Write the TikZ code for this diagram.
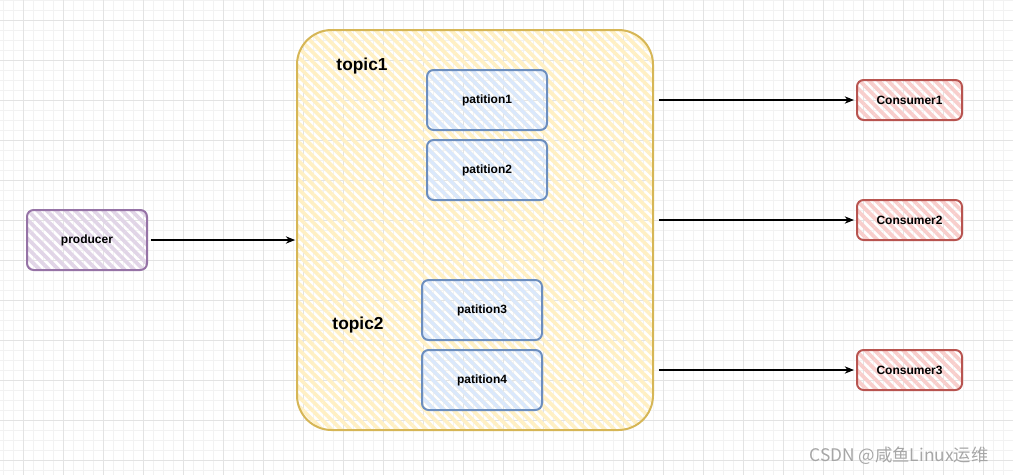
\documentclass[tikz,border=0pt]{standalone}
\usepackage{fontspec}
\setmainfont{Liberation Sans}
\newfontfamily\cjkfont{Noto Sans CJK SC}
\usetikzlibrary{arrows.meta}
\usetikzlibrary{patterns.meta}

\definecolor{prodline}{HTML}{9673A6}
\definecolor{prodfill}{HTML}{E1D5E7}
\definecolor{topicline}{HTML}{D6B656}
\definecolor{topicfill}{HTML}{FFF0C4}
\definecolor{partline}{HTML}{6C8EBF}
\definecolor{partfill}{HTML}{DAE8FC}
\definecolor{consline}{HTML}{B85450}
\definecolor{consfill}{HTML}{F8CECC}

\tikzset{
  hatch/.style={pattern={Lines[angle=-45,distance=5pt,line width=2.8pt]}, pattern color=#1},
  box/.style={draw, line width=1.5pt, rounded corners=5pt, inner sep=0pt, font=\bfseries\fontsize{9}{11}\selectfont},
  prodbox/.style={box, draw=prodline, hatch=prodfill, minimum width=90pt, minimum height=45pt},
  partbox/.style={box, draw=partline, hatch=partfill, minimum width=90pt, minimum height=45pt},
  consbox/.style={box, draw=consline, hatch=consfill, minimum width=78.75pt, minimum height=30pt},
  topicbox/.style={draw=topicline, line width=1.5pt, rounded corners=26pt, hatch=topicfill, minimum width=267pt, minimum height=300pt, inner sep=0pt},
  topiclabel/.style={font=\bfseries\fontsize{13}{15}\selectfont},
  link/.style={-{Stealth[length=7pt,width=5.5pt]}, line width=0.8pt},
  minorgrid/.style={draw=black!5, line width=0.6pt},
  majorgrid/.style={draw=black!11, line width=0.6pt}
}

\begin{document}
\begin{tikzpicture}[x=0.75pt,y=-0.75pt]
\useasboundingbox (0,0) rectangle (1013,475);
% background grid
\foreach \gx in {3,13,...,1013} \draw[minorgrid] (\gx,0) -- (\gx,475);
\foreach \gy in {0,10,...,470} \draw[minorgrid] (0,\gy) -- (1013,\gy);
\foreach \gx in {23,63,...,1003} \draw[majorgrid] (\gx,0) -- (\gx,475);
\foreach \gy in {20,60,...,460} \draw[majorgrid] (0,\gy) -- (1013,\gy);

\node[topicbox] (topic) at (475,230) {};
\node[topiclabel] (t1) at (362,66) {topic1};
\node[topiclabel] (t2) at (358,325) {topic2};

\node[prodbox] (producer) at (87,240) {producer};

\node[partbox] (p1) at (487,100) {patition1};
\node[partbox] (p2) at (487,170) {patition2};
\node[partbox] (p3) at (482,310) {patition3};
\node[partbox] (p4) at (482,380) {patition4};

\node[consbox] (c1) at (909.5,100) {Consumer1};
\node[consbox] (c2) at (909.5,220) {Consumer2};
\node[consbox] (c3) at (909.5,370) {Consumer3};

\draw[link, shorten <=2pt] (producer.east) -- (producer.east -| topic.west);
\draw[link, shorten >=1.5pt] ([xshift=3pt]topic.east |- c1) -- (c1.west);
\draw[link, shorten >=1.5pt] ([xshift=3pt]topic.east |- c2) -- (c2.west);
\draw[link, shorten >=1.5pt] ([xshift=3pt]topic.east |- c3) -- (c3.west);

\node[text=black!35, font=\cjkfont\fontsize{13}{15}\selectfont] (mark) at (899,456) {CSDN @咸鱼Linux运维};
\end{tikzpicture}
\end{document}
